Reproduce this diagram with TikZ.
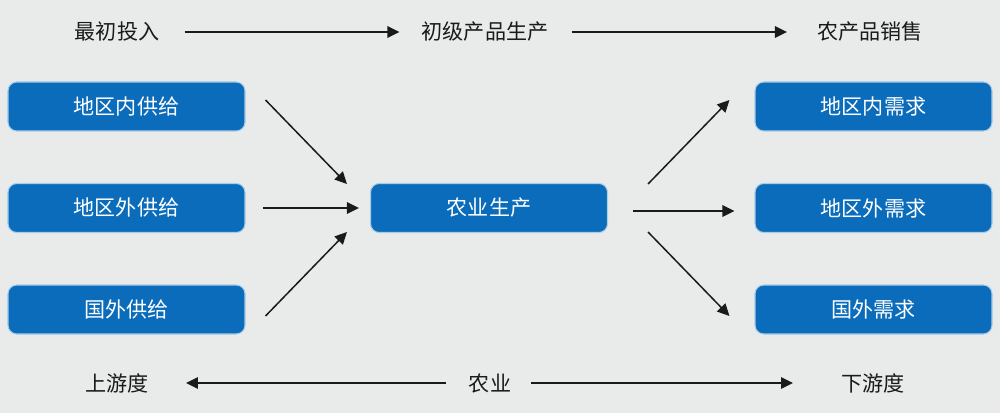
\documentclass[tikz,border=0pt]{standalone}
\usepackage{fontspec}
\newfontfamily\cjk{Noto Sans CJK SC}
\usetikzlibrary{arrows.meta}
\definecolor{cbg}{HTML}{E8EBE9}
\definecolor{cbox}{HTML}{0A6CBA}
\definecolor{cink}{HTML}{1A1A1A}
\tikzset{
  >={Triangle[length=2.4mm,width=2.3mm]},
  bbox/.style={rounded corners=5pt,fill=cbox,draw=cbox!35!white,line width=0.6pt,
               text=white,minimum width=4.74cm,minimum height=0.98cm,inner sep=0pt},
  lbl/.style={text=cink,inner sep=0pt},
  flow/.style={->,draw=cink,line width=0.85pt},
}

\begin{document}
\begin{tikzpicture}[font=\cjk\fontsize{12}{14}\selectfont]
\fill[cbg] (0,0) rectangle (20,-8.26);
\useasboundingbox (0,0) rectangle (20,-8.26);

% top and bottom labels
\node[lbl] (t1) at (2.34,-0.64) {最初投入};
\node[lbl] (t2) at (9.70,-0.64) {初级产品生产};
\node[lbl] (t3) at (17.40,-0.64) {农产品销售};
\node[lbl] (b1) at (2.34,-7.66) {上游度};
\node[lbl] (b2) at (9.80,-7.66) {农业};
\node[lbl] (b3) at (17.46,-7.66) {下游度};

% boxes
\node[bbox] (l1) at (2.53,-2.13) {地区内供给};
\node[bbox] (l2) at (2.53,-4.16) {地区外供给};
\node[bbox] (l3) at (2.53,-6.19) {国外供给};
\node[bbox] (c)  at (9.78,-4.16) {农业生产};
\node[bbox] (r1) at (17.47,-2.13) {地区内需求};
\node[bbox] (r2) at (17.47,-4.16) {地区外需求};
\node[bbox] (r3) at (17.47,-6.19) {国外需求};

% horizontal flows
\draw[flow,shorten <=0.5cm,shorten >=0.44cm] (t1.east) -- (t2.west);
\draw[flow,shorten <=0.46cm,shorten >=0.6cm] (t2.east) -- (t3.west);
\draw[flow,shorten <=0.46cm,shorten >=0.74cm] (b2.west) -- (b1.east);
\draw[flow,shorten <=0.4cm,shorten >=0.96cm] (b2.east) -- (b3.west);

% into and out of the centre
\draw[flow] ([xshift=4mm,yshift=1.3mm]l1.east) -- ([xshift=-4.6mm,yshift=4.8mm]c.west);
\draw[flow] ([xshift=3.4mm]l2.east) -- ([xshift=-2.2mm]c.west);
\draw[flow] ([xshift=4mm,yshift=-1.3mm]l3.east) -- ([xshift=-4.6mm,yshift=-4.8mm]c.west);
\draw[flow] ([xshift=8mm,yshift=4.8mm]c.east) -- ([xshift=-5mm,yshift=1.3mm]r1.west);
\draw[flow] ([xshift=5mm,yshift=-0.6mm]c.east) -- ([xshift=-4mm,yshift=-0.6mm]r2.west);
\draw[flow] ([xshift=8mm,yshift=-4.8mm]c.east) -- ([xshift=-5mm,yshift=-1.3mm]r3.west);

\end{tikzpicture}
\end{document}
